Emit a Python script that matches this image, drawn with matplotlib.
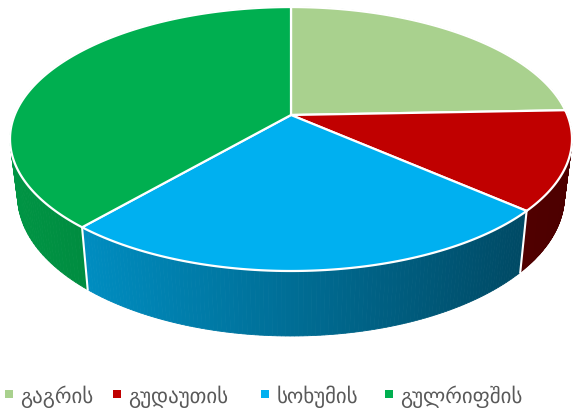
import matplotlib
matplotlib.use('Agg')
import matplotlib.pyplot as plt
import numpy as np

# pie data
labels = ['გაგრის', 'გუდაუთის', 'სოხუმის', 'გულრიფშის']
values = [24.4, 12.1, 24.8, 38.7]
colors = ['#A9D18E', '#C00000', '#00B0F0', '#00AF50']

# left edge of each legend entry, pixels
legend_x = [5, 113, 261, 385]

## perspective of the disc, in pixels

cx, cy = 291, 116
A, B, k = 276.3, 127.6, 0.182


def top(theta):
    u = np.sin(theta)
    v = np.cos(theta)
    w = 1 + k * v
    return cx + A * u / w, cy - B * v / w


def bottom(theta):
    x, y = top(theta)
    return cx + 0.973 * (x - cx), 337 + 1.06 * (y - 272)


def shade(x):
    return np.interp(x, [10, 85, 525, 572], [0.85, 0.80, 0.42, 0.40])


fig = plt.figure(figsize=(5.87, 4.10), dpi=100)
ax = fig.add_axes([0, 0, 1, 1])
ax.set_xlim(0, 587)
ax.set_ylim(410, 0)
ax.axis('off')

edges = 2 * np.pi * np.concatenate([[0], np.cumsum(values)]) / np.sum(values)

## side walls, cut in thin strips so the shade can change along x

for i in range(len(values)):
    base = np.array(matplotlib.colors.to_rgb(colors[i]))
    t = np.linspace(edges[i], edges[i + 1], 120)
    for a, b in zip(t[:-1], t[1:]):
        x1, y1 = top(a)
        x2, y2 = top(b)
        x3, y3 = bottom(b)
        x4, y4 = bottom(a)
        c = base * shade((x1 + x2) / 2)
        ax.fill([x1, x2, x3, x4], [y1, y2, y3, y4], color=c, lw=0.6, zorder=2)

# seams between the walls
for e in edges:
    if np.cos(e) < 0:
        x1, y1 = top(e)
        x2, y2 = bottom(e)
        ax.plot([x1, x2], [y1, y2], color='white', lw=1.5, zorder=3)

## top of the pie

for i in range(len(values)):
    t = np.linspace(edges[i], edges[i + 1], 200)
    x, y = top(t)
    ax.fill(np.r_[cx, x], np.r_[cy, y], facecolor=colors[i], edgecolor='white',
            lw=1.6, joinstyle='round', zorder=4)

## legend

for lx, c, l in zip(legend_x, colors, labels):
    ax.fill([lx, lx + 7.5, lx + 7.5, lx], [391, 391, 399, 399], color=c, lw=0)
    ax.text(lx + 15.5, 397, l, color='#595959', fontsize=15, va='center', ha='left')

plt.savefig('out.png', dpi=100)
